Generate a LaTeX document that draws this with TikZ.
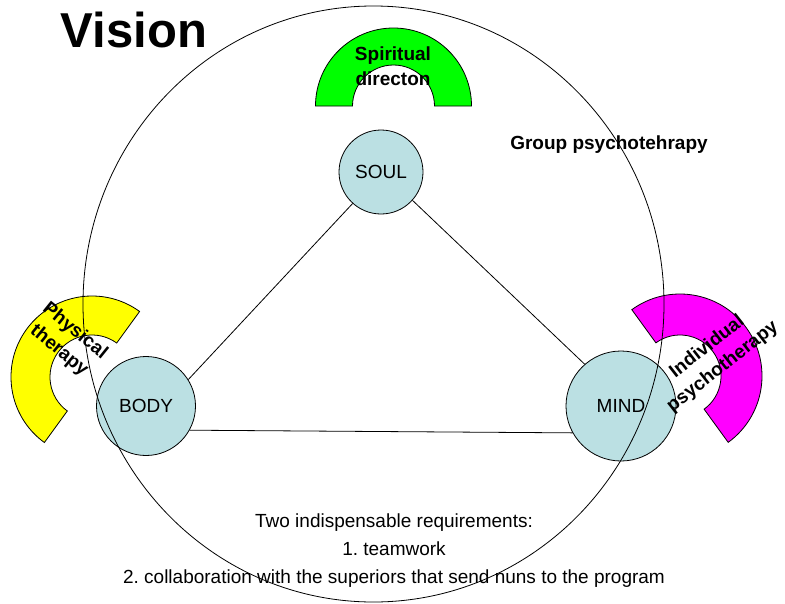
\documentclass[tikz,border=0pt]{standalone}
\usepackage{fontspec}
\setmainfont{Liberation Sans}
\usetikzlibrary{calc}
\frenchspacing
\definecolor{ballblue}{RGB}{187,224,227}
\definecolor{arcgreen}{RGB}{0,255,0}
\definecolor{arcyellow}{RGB}{255,255,0}
\definecolor{arcmagenta}{RGB}{255,0,255}
\begin{document}
\begin{tikzpicture}[x=1pt,y=1pt,line width=0.8pt,
  ball/.style={circle,draw=black,fill=ballblue,minimum size=#1,inner sep=0pt,
    font=\fontsize{19}{22}\selectfont},
  boldlbl/.style={font=\bfseries\fontsize{19}{25}\selectfont,align=center,inner sep=0pt},
  plainlbl/.style={font=\fontsize{19}{28}\selectfont,align=center,inner sep=0pt},
  blockarc/.style={draw=black,fill=#1}]
\useasboundingbox (0,0) rectangle (785,-603);
% block arcs
\coordinate (gc) at (393.5,-106);
\filldraw[blockarc=arcgreen] ($(gc)+(0:78)$) arc[start angle=0,end angle=180,radius=78]
  -- ($(gc)+(180:41)$) arc[start angle=180,end angle=0,radius=41] -- cycle;
\coordinate (yc) at (92,-377);
\filldraw[blockarc=arcyellow] ($(yc)+(54:81)$) arc[start angle=54,end angle=234,radius=81]
  -- ($(yc)+(234:42)$) arc[start angle=234,end angle=54,radius=42] -- cycle;
\coordinate (mc) at (680,-376);
\filldraw[blockarc=arcmagenta] ($(mc)+(-54:82)$) arc[start angle=-54,end angle=126,radius=82]
  -- ($(mc)+(126:41)$) arc[start angle=126,end angle=-54,radius=41] -- cycle;
% balls
\node[ball=84] (soul) at (381,-172) {SOUL};
\node[ball=99] (body) at (146,-406) {BODY};
\node[ball=110] (mind) at (621,-406) {MIND};
\draw (soul.228) -- (body.32);
\draw (soul.-42) -- (mind.131);
\draw (body.-29) -- (mind.209);
% labels
\node[boldlbl] (spirit) at (393,-66) {Spiritual\\directon};
\node[boldlbl,rotate=-39] (phys) at (67,-341) {Physical\\therapy};
\node[boldlbl,rotate=38] (indiv) at (715,-357) {Individual\\psychotherapy};
\node[boldlbl] (group) at (609,-145) {Group psychotehrapy};
\node[font=\bfseries\fontsize{49}{50}\selectfont,inner sep=0pt] (vision) at (134,-30) {Vision};
\node[plainlbl] (req) at (394,-551) {Two indispensable requirements:\\1. teamwork\\2. collaboration with the superiors that send nuns to the program};
% big circle on top
\draw (373.5,-304) ellipse [x radius=290.5,y radius=298];
\end{tikzpicture}
\end{document}
